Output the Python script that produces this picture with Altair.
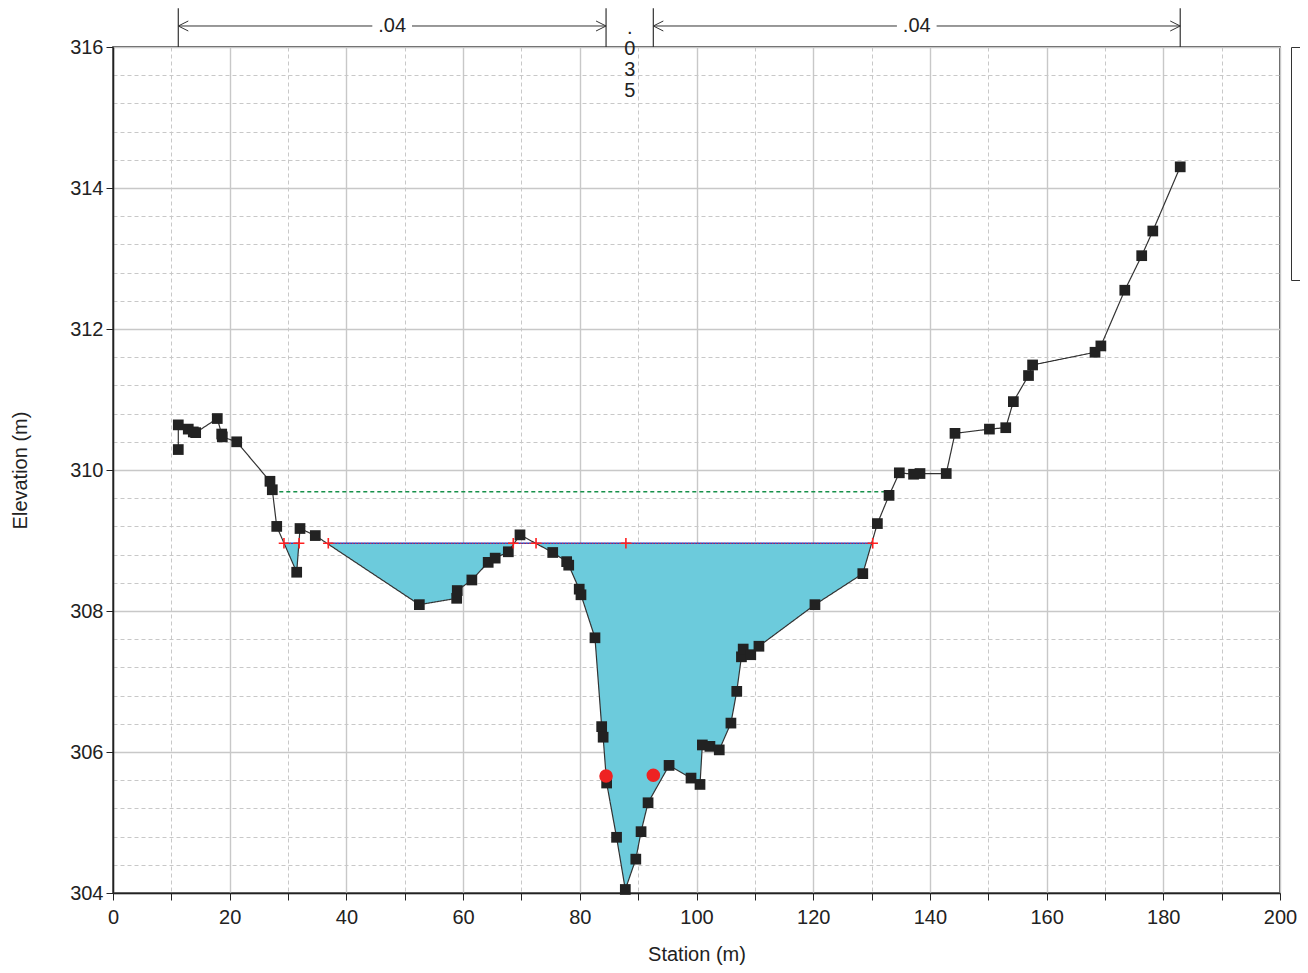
import altair as alt
import pandas as pd

# ---------------- data ----------------
station = [11.19, 11.19, 12.9, 13.76, 14.17, 17.87, 18.63, 18.73, 21.2, 26.9,
           27.3, 28.06, 31.48, 32.05, 34.67, 52.5, 58.9, 59.0, 61.5, 64.3,
           65.5, 67.75, 69.75, 75.36, 77.75, 78.1, 79.9, 80.2, 82.6, 83.75,
           84.0, 84.6, 86.3, 87.8, 89.6, 90.5, 91.7, 95.3, 99.06, 100.6,
           101.0, 102.3, 103.9, 105.9, 106.9, 107.7, 108.0, 109.3, 110.7, 120.3,
           128.5, 131.0, 133.0, 134.76, 137.2, 138.3, 142.8, 144.3, 150.2, 153.0,
           154.3, 156.9, 157.6, 168.3, 169.3, 173.4, 176.3, 178.2, 182.9]
elevation = [310.29, 310.64, 310.58, 310.54, 310.53, 310.73, 310.51, 310.47, 310.40, 309.84,
             309.72, 309.20, 308.55, 309.17, 309.07, 308.09, 308.18, 308.29, 308.44, 308.69,
             308.75, 308.84, 309.08, 308.83, 308.70, 308.65, 308.31, 308.23, 307.62, 306.36,
             306.21, 305.56, 304.79, 304.05, 304.48, 304.87, 305.28, 305.81, 305.63, 305.54,
             306.10, 306.08, 306.03, 306.41, 306.86, 307.35, 307.46, 307.38, 307.50, 308.09,
             308.53, 309.24, 309.64, 309.96, 309.94, 309.95, 309.95, 310.52, 310.58, 310.60,
             310.97, 311.34, 311.49, 311.67, 311.76, 312.55, 313.04, 313.39, 314.30]

bank_sta = [84.5, 92.6]
bank_elev = [305.66, 305.67]

ws_elev = 308.96
ws_start = [29.3, 36.9]
ws_end = [31.9, 130.2]

eg_elev = 309.69
eg_start = [27.3]
eg_end = [133.0]

cross_sta = [29.3, 31.9, 36.9, 68.6, 72.5, 87.9, 130.2]

n_values = [".04", ".035", ".04"]
n_bounds = [11.19, 84.5, 92.6, 182.9]
n_arrow = [True, False, True]

series_names = ["EG PF 1", "WS PF 1", "Crit PF 1", "Ground", "Bank Sta"]
series_colors = ["#17904a", "#2446c4", "#ff3030", "#333333", "#ee2222"]
series_dash = [[4, 3], [1, 0], [1, 2], [1, 0], [0, 40]]

x_ticks = list(range(0, 201, 10))
y_ticks = [round(304 + 0.4 * i, 1) for i in range(31)]

# ---------------- tables ----------------
rows = []
for i, (s, e) in enumerate(zip(station, elevation)):
    rows.append({"series": "Ground", "seg": "g", "station": s, "elev": e, "ord": i})
for k, (a, b) in enumerate(zip(eg_start, eg_end)):
    rows.append({"series": "EG PF 1", "seg": f"eg{k}", "station": a, "elev": eg_elev, "ord": 0})
    rows.append({"series": "EG PF 1", "seg": f"eg{k}", "station": b, "elev": eg_elev, "ord": 1})
for k, (a, b) in enumerate(zip(ws_start, ws_end)):
    for name in ["WS PF 1", "Crit PF 1"]:
        rows.append({"series": name, "seg": f"{name}{k}", "station": a, "elev": ws_elev, "ord": 0})
        rows.append({"series": name, "seg": f"{name}{k}", "station": b, "elev": ws_elev, "ord": 1})
lines_df = pd.DataFrame(rows)

# water fill: ground clipped at the water surface, with the crossings inserted
fill_rows = []
for i in range(len(station)):
    if i > 0:
        e0, e1 = elevation[i - 1], elevation[i]
        if (e0 - ws_elev) * (e1 - ws_elev) < 0:
            t = (ws_elev - e0) / (e1 - e0)
            fill_rows.append({"station": station[i - 1] + t * (station[i] - station[i - 1]),
                              "elev": ws_elev, "ws": ws_elev})
    fill_rows.append({"station": station[i], "elev": min(elevation[i], ws_elev), "ws": ws_elev})
fill_df = pd.DataFrame(fill_rows)

ground_df = pd.DataFrame({"station": station, "elev": elevation})
bank_df = pd.DataFrame({"station": bank_sta, "elev": bank_elev})
cross_df = pd.DataFrame({"station": cross_sta, "elev": [ws_elev] * len(cross_sta)})

# Manning's n annotation above the plot
y_top = 316.55
y_arrow = 316.298
gap = 3.4
bound_df = pd.DataFrame({"station": n_bounds, "y0": [316.0] * len(n_bounds), "y1": [y_top] * len(n_bounds)})
seg_rows, left_heads, right_heads, h_labels, v_labels = [], [], [], [], []
for i, lab in enumerate(n_values):
    a, b = n_bounds[i], n_bounds[i + 1]
    c = (a + b) / 2
    if n_arrow[i]:
        seg_rows.append({"x": a, "x2": c - gap, "y": y_arrow})
        seg_rows.append({"x": c + gap, "x2": b, "y": y_arrow})
        left_heads.append({"station": a, "elev": y_arrow})
        right_heads.append({"station": b, "elev": y_arrow})
        h_labels.append({"station": c, "elev": y_arrow, "text": lab})
    else:
        v_labels.append({"station": c, "elev": 316.184, "text": "\n".join(list(lab))})
seg_df = pd.DataFrame(seg_rows)
lh_df = pd.DataFrame(left_heads)
rh_df = pd.DataFrame(right_heads)
hl_df = pd.DataFrame(h_labels)
vl_df = pd.DataFrame(v_labels)

# ---------------- scales / axes ----------------
xscale = alt.Scale(domain=[0, 200], nice=False, zero=False)
yscale = alt.Scale(domain=[304, 316], nice=False, zero=False)

x_major = "datum.value % 20 === 0"
y_major = "abs(datum.value - 2*round(datum.value/2)) < 0.01"

xaxis = alt.Axis(
    values=x_ticks, format="d", title="Station (m)",
    labelExpr=f"{x_major} ? datum.label : ''",
    labelFlush=False, labelOverlap=False,
    grid=True, gridColor="#c8c8c8",
    gridWidth={"condition": {"test": x_major, "value": 1.4}, "value": 1},
    gridDash={"condition": {"test": x_major, "value": []}, "value": [4, 3]},
    tickSize=7, tickColor="#222222", domainColor="#222222", domainWidth=1.5,
    labelPadding=7, titlePadding=17,
)
yaxis = alt.Axis(
    values=y_ticks, format=".0f", title="Elevation (m)",
    labelExpr=f"{y_major} ? datum.label : ''",
    labelFlush=False, labelOverlap=False,
    grid=True, gridColor="#c8c8c8",
    gridWidth={"condition": {"test": y_major, "value": 1.4}, "value": 1},
    gridDash={"condition": {"test": y_major, "value": []}, "value": [4, 3]},
    tickSize=7, tickOpacity={"condition": {"test": y_major, "value": 1}, "value": 0},
    tickColor="#222222", domainColor="#222222", domainWidth=1.5,
    labelPadding=3, titlePadding=39,
)


def X(field="station"):
    return alt.X(field, type="quantitative", scale=xscale, axis=xaxis)


def Y(field="elev"):
    return alt.Y(field, type="quantitative", scale=yscale, axis=yaxis)


legend = alt.Legend(
    orient="none", legendX=1178, legendY=0, title="Legend",
    strokeColor="#333333", fillColor="white", padding=10,
    symbolType="stroke", symbolSize=900, symbolStrokeWidth=1.5,
    rowPadding=20, titleFontSize=14, labelFontSize=14, titlePadding=4,
    titleFontWeight="normal",
)
color_enc = alt.Color("series:N", scale=alt.Scale(domain=series_names, range=series_colors), legend=legend)
dash_enc = alt.StrokeDash("series:N", scale=alt.Scale(domain=series_names, range=series_dash), legend=legend)

base_lines = alt.Chart(lines_df)


def line_layer(name, width):
    return base_lines.transform_filter(alt.datum.series == name).mark_line(strokeWidth=width).encode(
        x=X(), y=Y(), color=color_enc, strokeDash=dash_enc,
        detail="seg:N", order="ord:Q",
    )


water = alt.Chart(fill_df).mark_area(color="#6ccbdc", opacity=1).encode(
    x=X(), y=Y(), y2=alt.Y2("ws")
)
eg_line = line_layer("EG PF 1", 1.5)
ws_line = line_layer("WS PF 1", 1.5)
crit_line = line_layer("Crit PF 1", 1.3)
ground_line = line_layer("Ground", 1.2)

ground_pts = alt.Chart(ground_df).mark_square(size=115, color="#222222", opacity=1).encode(x=X(), y=Y())
crosses = alt.Chart(cross_df).mark_point(
    shape="M-1,0L1,0M0,-1L0,1", size=110, filled=False, color="#ff2020", strokeWidth=1.6, opacity=1
).encode(x=X(), y=Y())
banks = alt.Chart(bank_df).mark_circle(size=185, color="#ee2222", opacity=1).encode(x=X(), y=Y())

bounds = alt.Chart(bound_df).mark_rule(color="#333333", strokeWidth=1.2).encode(
    x=X(), y=Y("y0"), y2=alt.Y2("y1")
)
arrows = alt.Chart(seg_df).mark_rule(color="#333333", strokeWidth=1).encode(
    x=X("x"), x2=alt.X2("x2"), y=Y("y")
)
lheads = alt.Chart(lh_df).mark_point(
    shape="M2,-1L0,0L2,1", size=100, filled=False, color="#333333", strokeWidth=1, opacity=1
).encode(x=X(), y=Y())
rheads = alt.Chart(rh_df).mark_point(
    shape="M-2,-1L0,0L-2,1", size=100, filled=False, color="#333333", strokeWidth=1, opacity=1
).encode(x=X(), y=Y())
hlabels = alt.Chart(hl_df).mark_text(fontSize=20, baseline="middle", align="center", color="#222222").encode(
    x=X(), y=Y(), text="text:N"
)
vlabels = alt.Chart(vl_df).mark_text(
    fontSize=20, baseline="alphabetic", align="center", color="#222222", lineBreak="\n", lineHeight=21
).encode(x=X(), y=Y(), text="text:N")

chart = alt.layer(
    water, eg_line, ws_line, crit_line, ground_line, ground_pts, crosses, banks,
    bounds, arrows, lheads, rheads, hlabels, vlabels,
).properties(
    width=1167, height=846,
    autosize=alt.AutoSizeParams(type="none"),
    padding={"left": 105, "top": 39, "right": 20, "bottom": 72},
).configure(
    font="Liberation Sans",
).configure_axis(
    labelFontSize=20, titleFontSize=20, labelColor="#222222", titleColor="#222222",
    titleFontWeight="normal", labelFont="Liberation Sans", titleFont="Liberation Sans",
).configure_view(
    stroke="#222222", strokeWidth=1.5,
).configure_legend(
    labelFont="Liberation Sans", titleFont="Liberation Sans",
)

chart.save("out.html", embed_options={"renderer": "svg", "actions": False})
